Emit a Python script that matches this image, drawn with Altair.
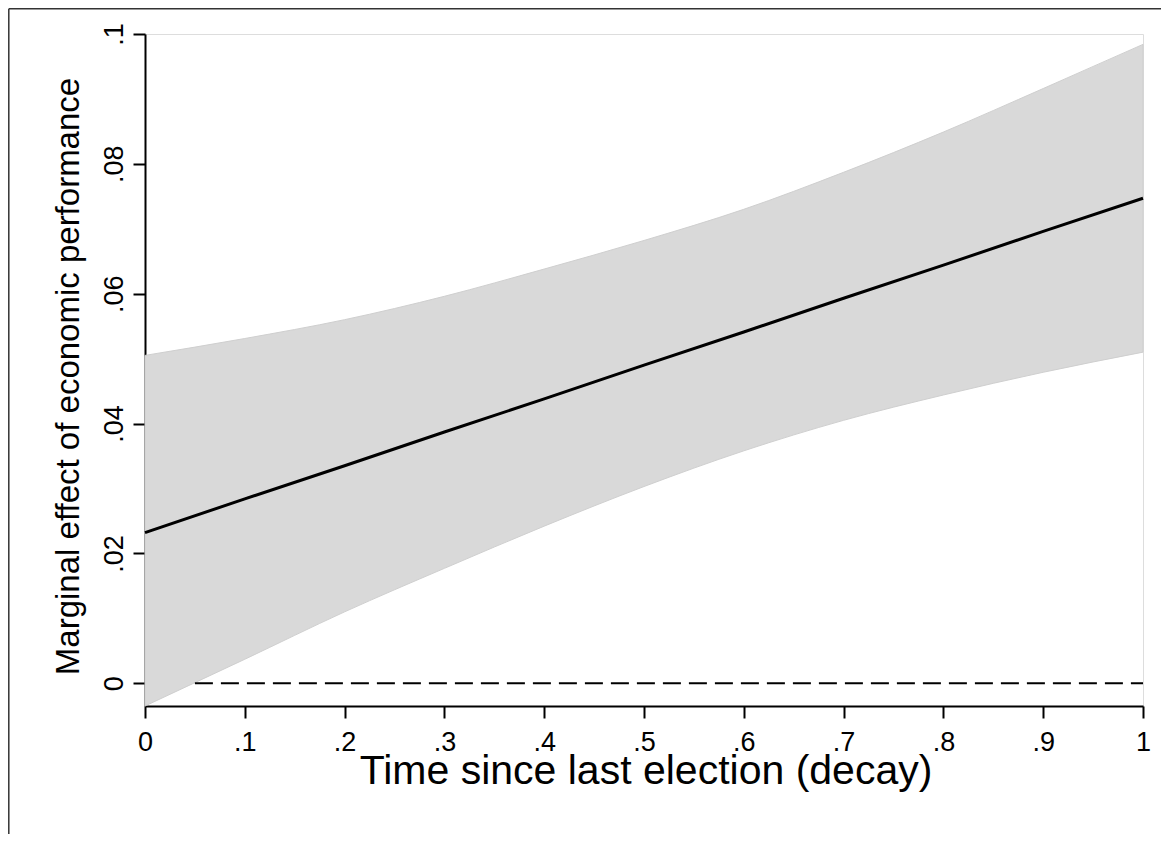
import altair as alt
import pandas as pd

# values
decay = [0.0, 0.1, 0.2, 0.3, 0.4, 0.5, 0.6, 0.7, 0.8, 0.9, 1.0]
effect = [0.0232, 0.0284, 0.0335, 0.0387, 0.0438, 0.0490, 0.0541, 0.0593, 0.0644, 0.0696, 0.0747]
ci_lower = [-0.0035, 0.0037, 0.0110, 0.0177, 0.0242, 0.0303, 0.0358, 0.0405, 0.0444, 0.0479, 0.0510]
ci_upper = [0.0505, 0.0531, 0.0560, 0.0596, 0.0638, 0.0682, 0.0730, 0.0787, 0.0849, 0.0916, 0.0984]

ref_start = [0.05]
ref_end = [1.0]
ref_value = [0.0]

x_ticks = [0, 0.1, 0.2, 0.3, 0.4, 0.5, 0.6, 0.7, 0.8, 0.9, 1.0]
y_ticks = [0, 0.02, 0.04, 0.06, 0.08, 0.1]

df = pd.DataFrame({"x": decay, "m": effect, "lo": ci_lower, "hi": ci_upper})
ref = pd.DataFrame({"x": ref_start, "x2": ref_end, "y": ref_value})

FONT = "Liberation Sans"
LABEL_SIZE = 27
lab = "datum.value == 0 || datum.value == 1 ? format(datum.value, '~g') : substring(format(datum.value, '~g'), 1)"

xscale = alt.Scale(domain=[0, 1], nice=False, zero=False)
yscale = alt.Scale(domain=[-0.0035, 0.1], nice=False, zero=False)

xaxis = alt.Axis(
    values=x_ticks, labelExpr=lab, grid=False,
    title="Time since last election (decay)",
    titleFontSize=41, titleFont=FONT, titleFontWeight="normal", titleColor="black",
    titleX=500.5, titleY=77, titleBaseline="alphabetic", titleAlign="center",
    labelFont=FONT, labelFontSize=LABEL_SIZE, labelColor="black", labelPadding=11,
    labelBaseline="top", labelAlign="center", labelFlush=False, labelOverlap=False,
    tickSize=12, tickWidth=2, tickColor="black", domainColor="black", domainWidth=2,
)
yaxis = alt.Axis(
    values=y_ticks, labelExpr=lab, grid=False,
    title="Marginal effect of economic performance",
    titleFontSize=33, titleFont=FONT, titleFontWeight="normal", titleColor="black",
    titleAngle=270, titleX=-67, titleY=342, titleBaseline="alphabetic", titleAlign="center",
    labelFont=FONT, labelFontSize=LABEL_SIZE, labelColor="black", labelPadding=11,
    labelAngle=270, labelBaseline="alphabetic", labelAlign="center",
    labelFlush=False, labelOverlap=False,
    tickSize=12, tickWidth=2, tickColor="black", domainColor="black", domainWidth=2,
)

band = alt.Chart(df).mark_area(
    color="#d9d9d9", stroke="#cfcfcf", strokeWidth=1, interpolate="monotone"
).encode(
    x=alt.X("x:Q", scale=xscale, axis=xaxis),
    y=alt.Y("lo:Q", scale=yscale, axis=yaxis),
    y2="hi:Q",
)

zero_line = alt.Chart(ref).mark_rule(color="black", strokeWidth=2, strokeDash=[18, 8]).encode(
    x=alt.X("x:Q", scale=xscale, axis=xaxis), x2="x2:Q",
    y=alt.Y("y:Q", scale=yscale, axis=yaxis),
)

line = alt.Chart(df).mark_line(color="black", strokeWidth=3).encode(
    x=alt.X("x:Q", scale=xscale, axis=xaxis),
    y=alt.Y("m:Q", scale=yscale, axis=yaxis),
)

frame_df = pd.DataFrame({"k": [0]})
frame_left = alt.Chart(frame_df).mark_rule(color="#333333", strokeWidth=1.5).encode(
    x=alt.value(-136.2), y=alt.value(-25.2), y2=alt.value(900)
)
frame_top = alt.Chart(frame_df).mark_rule(color="#333333", strokeWidth=1.5).encode(
    x=alt.value(-136.2), x2=alt.value(1100), y=alt.value(-25.2)
)

chart = alt.layer(band, zero_line, line, frame_left, frame_top).properties(
    width=998, height=672,
    autosize=alt.AutoSizeParams(type="none"),
    padding={"left": 137, "top": 26, "right": 18, "bottom": 128},
).configure_view(stroke=None).configure_axis(
    labelFontSize=LABEL_SIZE, labelFont=FONT
).configure(background="white")

chart.save("out.html", embed_options={"renderer": "svg", "actions": False})
